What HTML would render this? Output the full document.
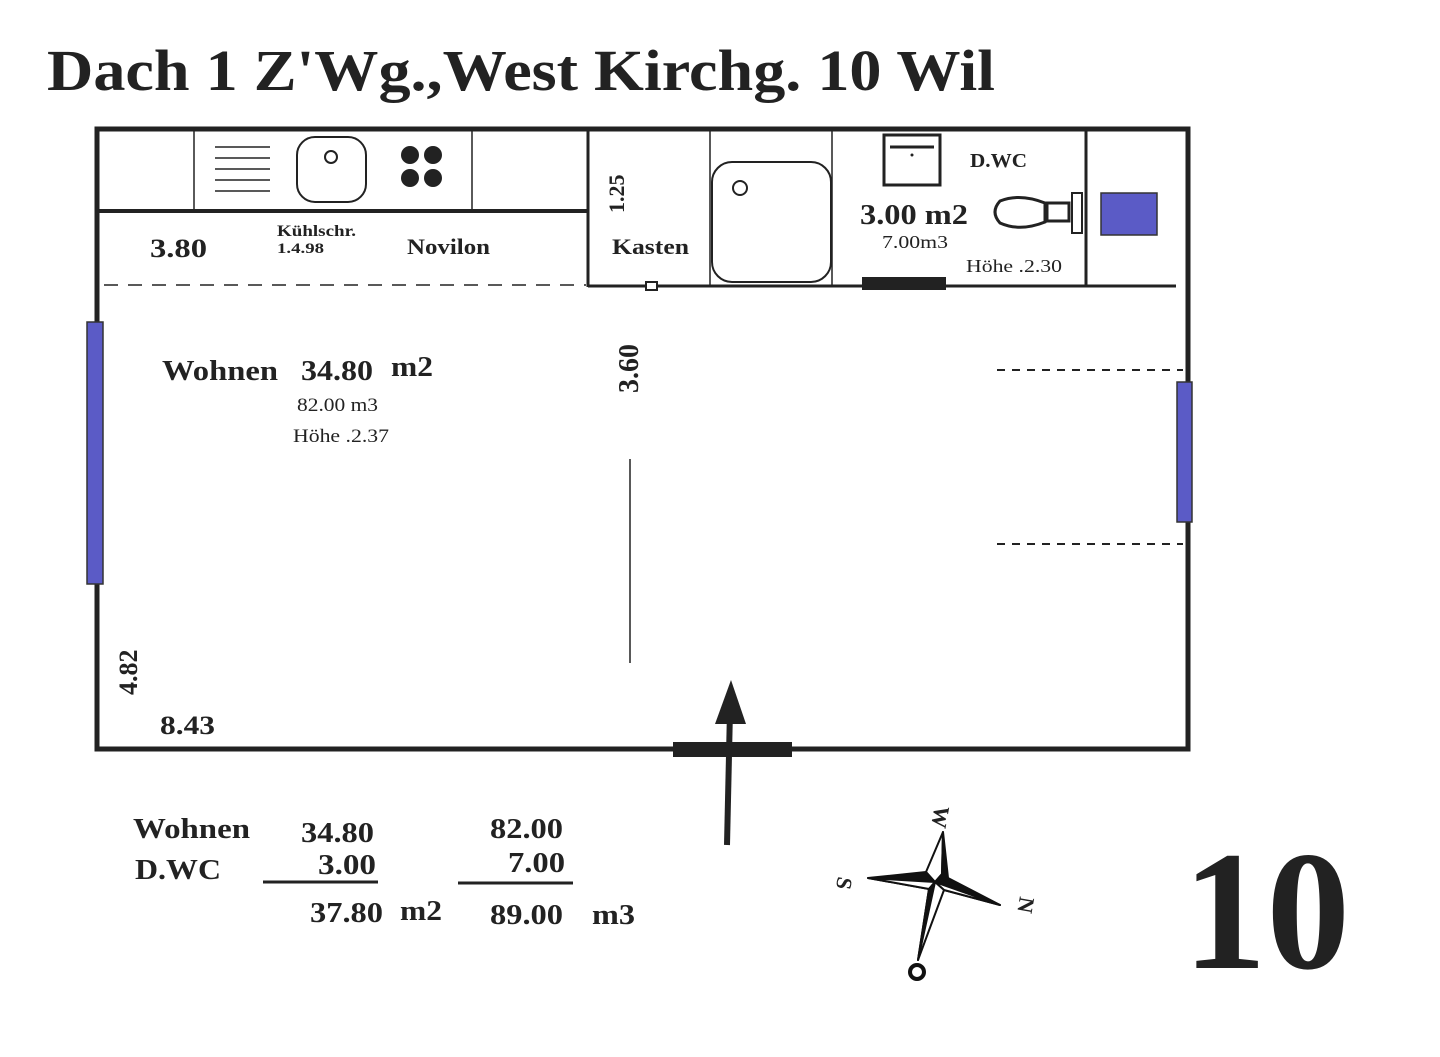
<!DOCTYPE html>
<html><head><meta charset="utf-8"><style>
html,body{margin:0;padding:0;background:#fff;width:1440px;height:1057px;overflow:hidden}
svg{display:block}
text{font-family:"Liberation Serif",serif;fill:#222}
</style></head><body>
<svg width="1440" height="1057" viewBox="0 0 1440 1057" xmlns="http://www.w3.org/2000/svg">
<text x="47" y="90" font-size="58" font-weight="bold" fill="#1a1a1a" textLength="948" lengthAdjust="spacingAndGlyphs">Dach 1 Z'Wg.,West Kirchg. 10 Wil</text>
<g stroke="#222" fill="none">
<rect x="97" y="129" width="1091" height="620" stroke-width="5"/>
<line x1="97" y1="211" x2="588" y2="211" stroke-width="4"/>
<line x1="194" y1="129" x2="194" y2="211" stroke-width="1.5"/>
<line x1="472" y1="129" x2="472" y2="211" stroke-width="1.5"/>
<g stroke-width="1.5"><line x1="215" y1="147" x2="270" y2="147"/><line x1="215" y1="158" x2="270" y2="158"/><line x1="215" y1="169" x2="270" y2="169"/><line x1="215" y1="180" x2="270" y2="180"/><line x1="215" y1="191" x2="270" y2="191"/></g>
<rect x="297" y="137" width="69" height="65" rx="18" stroke-width="2"/>
<circle cx="331" cy="157" r="6" stroke-width="2"/>
<line x1="588" y1="129" x2="588" y2="287" stroke-width="3"/>
<line x1="588" y1="286" x2="1176" y2="286" stroke-width="3"/>
<line x1="710" y1="129" x2="710" y2="286" stroke-width="1.5"/>
<line x1="832" y1="129" x2="832" y2="286" stroke-width="1.5"/>
<line x1="1086" y1="129" x2="1086" y2="286" stroke-width="3"/>
<rect x="712" y="162" width="119" height="120" rx="20" stroke-width="2"/>
<circle cx="740" cy="188" r="7" stroke-width="2"/>
<rect x="646" y="282" width="11" height="8" fill="#fff" stroke-width="2"/>
<rect x="884" y="135" width="56" height="50" stroke-width="3"/>
<line x1="890" y1="147" x2="934" y2="147" stroke-width="3"/>
<path d="M1000 201 Q1020 193 1045 203 L1045 222 Q1020 232 1000 223 Q990 212 1000 201Z" stroke-width="3"/>
<rect x="1047" y="203" width="22" height="18" stroke-width="3"/>
<rect x="1072" y="193" width="10" height="40" stroke-width="2"/>
<line x1="104" y1="285" x2="586" y2="285" stroke-width="1.5" stroke-dasharray="14 10"/>
<line x1="997" y1="370" x2="1183" y2="370" stroke-width="2" stroke-dasharray="8 7"/>
<line x1="997" y1="544" x2="1183" y2="544" stroke-width="2" stroke-dasharray="8 7"/>
<line x1="630" y1="459" x2="630" y2="663" stroke-width="1.5"/>
<line x1="263" y1="882" x2="378" y2="882" stroke-width="3"/>
<line x1="458" y1="883" x2="573" y2="883" stroke-width="3"/>
</g>
<g fill="#222">
<circle cx="410" cy="155" r="9"/><circle cx="433" cy="155" r="9"/><circle cx="410" cy="178" r="9"/><circle cx="433" cy="178" r="9"/>
<circle cx="912" cy="155" r="1.5"/>
<rect x="862" y="277" width="84" height="13"/>
<rect x="673" y="742" width="119" height="15"/>
<line x1="727" y1="845" x2="730" y2="710" stroke="#222" stroke-width="6"/>
<polygon points="731,680 746,724 715,724"/>
</g>
<g fill="#5b5bc6" stroke="#333" stroke-width="1.5">
<rect x="87" y="322" width="16" height="262"/>
<rect x="1177" y="382" width="15" height="140"/>
<rect x="1101" y="193" width="56" height="42"/>
</g>
<g font-weight="bold">
<text x="150" y="257" font-size="26" textLength="57" lengthAdjust="spacingAndGlyphs">3.80</text>
<text x="277" y="236" font-size="16" textLength="79" lengthAdjust="spacingAndGlyphs">Kühlschr.</text>
<text x="277" y="253" font-size="15" textLength="47" lengthAdjust="spacingAndGlyphs">1.4.98</text>
<text x="407" y="254" font-size="22" textLength="83" lengthAdjust="spacingAndGlyphs">Novilon</text>
<text x="612" y="254" font-size="22" textLength="77" lengthAdjust="spacingAndGlyphs">Kasten</text>
<text x="860" y="224" font-size="28" textLength="108" lengthAdjust="spacingAndGlyphs">3.00 m2</text>
<text x="970" y="167" font-size="20" textLength="57" lengthAdjust="spacingAndGlyphs">D.WC</text>
<text x="162" y="380" font-size="28" textLength="116" lengthAdjust="spacingAndGlyphs">Wohnen</text>
<text x="301" y="380" font-size="28" textLength="72" lengthAdjust="spacingAndGlyphs">34.80</text>
<text x="391" y="376" font-size="28" textLength="42" lengthAdjust="spacingAndGlyphs">m2</text>
<text x="160" y="734" font-size="26" textLength="55" lengthAdjust="spacingAndGlyphs">8.43</text>
<text transform="translate(624,213) rotate(-90)" font-size="22">1.25</text>
<text transform="translate(638,393) rotate(-90)" font-size="28">3.60</text>
<text transform="translate(137,695) rotate(-90)" font-size="26">4.82</text>
<text x="133" y="838" font-size="28" textLength="117" lengthAdjust="spacingAndGlyphs">Wohnen</text>
<text x="135" y="879" font-size="28" textLength="86" lengthAdjust="spacingAndGlyphs">D.WC</text>
<text x="301" y="842" font-size="28" textLength="73" lengthAdjust="spacingAndGlyphs">34.80</text>
<text x="318" y="874" font-size="28" textLength="58" lengthAdjust="spacingAndGlyphs">3.00</text>
<text x="310" y="922" font-size="28" textLength="73" lengthAdjust="spacingAndGlyphs">37.80</text>
<text x="400" y="920" font-size="28" textLength="42" lengthAdjust="spacingAndGlyphs">m2</text>
<text x="490" y="838" font-size="28" textLength="73" lengthAdjust="spacingAndGlyphs">82.00</text>
<text x="508" y="872" font-size="28" textLength="57" lengthAdjust="spacingAndGlyphs">7.00</text>
<text x="490" y="924" font-size="28" textLength="73" lengthAdjust="spacingAndGlyphs">89.00</text>
<text x="592" y="924" font-size="28" textLength="43" lengthAdjust="spacingAndGlyphs">m3</text>
<text x="1183" y="968" font-size="170" fill="#1a1a1a" textLength="167" lengthAdjust="spacingAndGlyphs">10</text>
</g>
<text x="882" y="248" font-size="18" textLength="66" lengthAdjust="spacingAndGlyphs">7.00m3</text>
<text x="966" y="272" font-size="18" textLength="96" lengthAdjust="spacingAndGlyphs">Höhe .2.30</text>
<text x="297" y="411" font-size="19" textLength="81" lengthAdjust="spacingAndGlyphs">82.00 m3</text>
<text x="293" y="442" font-size="19" textLength="96" lengthAdjust="spacingAndGlyphs">Höhe .2.37</text>
<g stroke="#111" stroke-width="2" stroke-linejoin="round">
<polygon points="943,832 942,874 935,882 926,872" fill="#fff"/>
<polygon points="943,832 942,874 935,882 948,878" fill="#111"/>
<polygon points="868,878 926,872 935,882 929,889" fill="#111"/>
<polygon points="868,878 929,889 935,882" fill="#fff"/>
<polygon points="1000,905 948,878 935,882 944,890" fill="#111"/>
<polygon points="1000,905 944,890 935,882" fill="#fff"/>
<polygon points="918,960 929,889 935,882 944,890" fill="#fff"/>
<polygon points="918,960 929,889 935,882" fill="#111"/>
</g>
<g font-family="Liberation Sans,sans-serif" font-weight="bold" font-size="22" fill="#111">
<text transform="translate(935,805) rotate(100)">W</text>
<text transform="translate(838,876) rotate(100)">S</text>
<text transform="translate(1020,896) rotate(100)">N</text>
<circle cx="917" cy="972" r="7" fill="none" stroke="#111" stroke-width="4"/>
</g>
</svg>
</body></html>
